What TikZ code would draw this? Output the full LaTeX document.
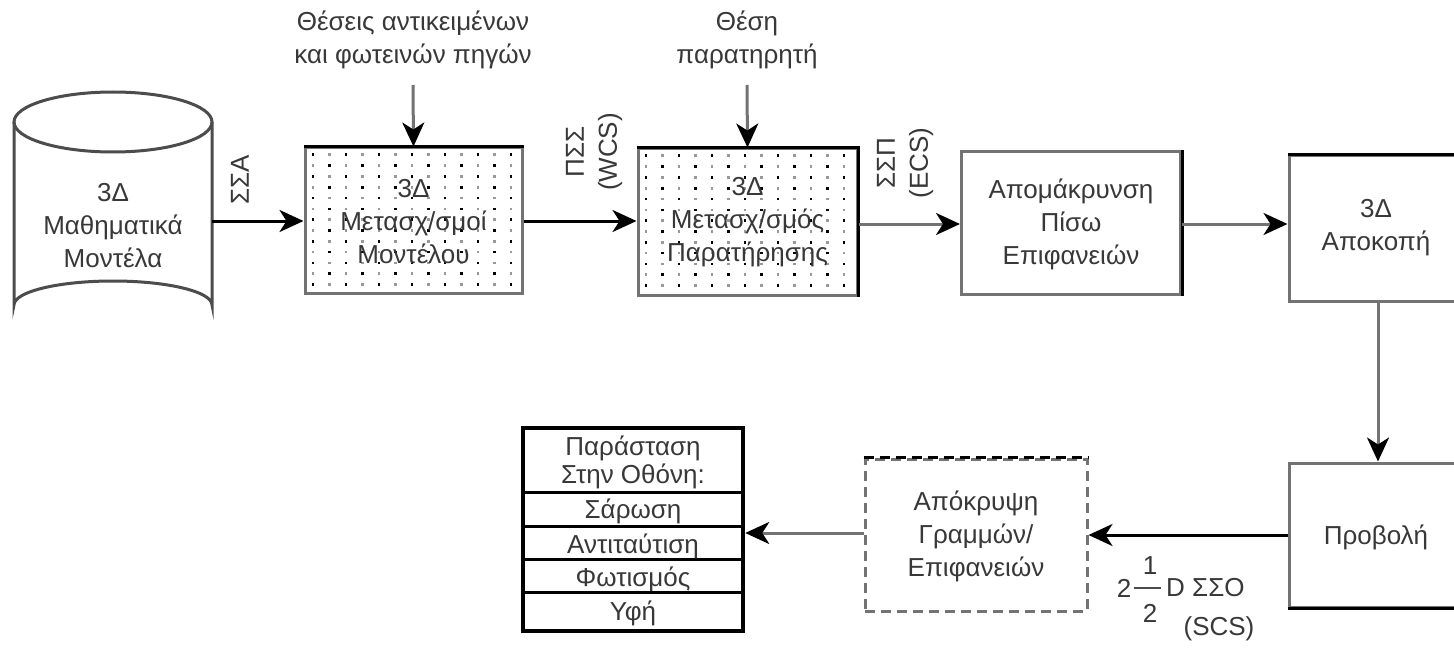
\documentclass[tikz,border=0pt]{standalone}
\usepackage{fontspec}
\setmainfont{Liberation Sans}
\usetikzlibrary{arrows.meta,calc}

\tikzset{
  txt/.style={font=\fontsize{26}{33}\selectfont, text=black!78, align=center, inner sep=0pt},
  grayline/.style={draw=black!55, line width=3pt},
  blackline/.style={draw=black, line width=3pt},
  stagebox/.style={grayline, minimum width=#1, inner sep=0pt},
  tip/.style={-{Stealth[length=24pt,width=22pt,inset=7pt,black]}},
  conn/.style={line width=3pt, tip},
  connblack/.style={conn, draw=black},
  conngray/.style={conn, draw=black!55}
}

% stippled fill of a process box
\newcommand{\stipplebox}[1]{%
  \foreach \i in {0,...,12}{\foreach \j in {0,...,12}{%
    \ifodd\numexpr\i*3+\j\relax \def\dc{black!40}\else\def\dc{black}\fi
    \fill[\dc, shift={(#1.north west)}] (8+\i*16.5,7+\j*10.8) rectangle ++(2.6,2.6);
  }}%
}

\begin{document}
\begin{tikzpicture}[x=1pt,y=-1pt]
\useasboundingbox (0,0) rectangle (1454,650);
\fill[white] (0,0) rectangle (1454,650);

% ---- database cylinder
\node[minimum width=198pt, minimum height=183pt, inner sep=0pt] (mdl) at (113,213.5) {};
\draw[draw=black!70, line width=3pt]
  (14,122) -- (14,305) arc[start angle=180, end angle=360, x radius=99, y radius=24] -- (212,122);
\draw[draw=black!70, line width=3pt] (113,122) ellipse[x radius=99, y radius=30];
\node[txt] (mdltxt) at (113,226) {3Δ\\Μαθηματικά\\Μοντέλα};

% ---- modelling transforms (dotted box)
\node[stagebox=217pt, minimum height=145pt] (b1) at (413.5,220.5) {};
\stipplebox{b1}
\draw[blackline] (b1.north west) -- (b1.north east);
\node[txt] (b1t) at (413.5,222) {3Δ\\Μετασχ/σμοί\\Μοντέλου};

% ---- viewing transform (dotted box)
\node[stagebox=219pt, minimum height=146pt] (b2) at (747.5,222) {};
\stipplebox{b2}
\draw[blackline] (b2.north west) -- (b2.north east) -- (b2.south east);
\node[txt] (b2t) at (747.5,222) {3Δ\\Μετασχ/σμός\\Παρατήρησης};

% ---- back-face removal
\node[stagebox=219pt, minimum height=142pt] (b3) at (1071,223) {};
\draw[blackline] (b3.north east) -- (b3.south east);
\node[txt] (b3t) at (1071,224) {Απομάκρυνση\\Πίσω\\Επιφανειών};

% ---- 3D clipping
\node[stagebox=178pt, minimum height=145pt] (b4) at (1378,228.5) {};
\draw[blackline] (b4.north west) -- (b4.north east);
\node[txt] (b4t) at (1376,228) {3Δ\\Αποκοπή};

% ---- projection
\node[stagebox=178pt, minimum height=144pt] (b5) at (1378,535) {};
\draw[blackline] (b5.south west) -- (b5.south east);
\node[txt] (b5t) at (1376,537) {Προβολή};

% ---- hidden line / surface removal (dashed)
\node[draw=black!55, line width=3pt, dash pattern=on 10pt off 6pt,
      minimum width=222pt, minimum height=152pt, inner sep=0pt] (b6) at (976,535) {};
\draw[draw=black, line width=3pt, dash pattern=on 10pt off 6pt] (b6.north west) -- (b6.north east);
\node[txt] (b6t) at (976,536) {Απόκρυψη\\Γραμμών/\\Επιφανειών};

% ---- screen display table
\node[draw=black, line width=4.5pt, minimum width=220pt, minimum height=203pt, inner sep=0pt] (scr) at (633,529.5) {};
\foreach \yy in {67,101,134,167}{
  \draw[draw=black, line width=3pt, shift={(scr.north west)}] (0,\yy) -- (220,\yy);
}
\node[txt, font=\fontsize{26}{28}\selectfont] (s0) at (633,462) {Παράσταση\\Στην Οθόνη:};
\node[txt] (s1) at (633,511) {Σάρωση};
\node[txt] (s2) at (633,546) {Αντιταύτιση};
\node[txt] (s3) at (633,579) {Φωτισμός};
\node[txt] (s4) at (633,613) {Υφή};

% ---- input labels above
\node[txt] (in1) at (413,40) {Θέσεις αντικειμένων\\και φωτεινών πηγών};
\node[txt] (in2) at (747,40) {Θέση\\παρατηρητή};
\coordinate (in1a) at (413,85);
\coordinate (in2a) at (747,85);
\draw[conngray] (in1a) -- (b1.north);
\draw[conngray] (in2a) -- (b2.north);

% ---- pipeline connectors
\draw[connblack] (mdl.east |- 0,221) -- (b1.west |- 0,221);
\draw[connblack] (b1.east |- 0,221) -- (b2.west |- 0,221);
\draw[conngray] (b2.east |- 0,224) -- (b3.west |- 0,224);
\draw[conngray] (b3.east |- 0,224) -- (b4.west |- 0,224);
\draw[conngray] (b4.south) -- (b5.north);
\draw[connblack] (b5.west) -- (b6.east);
\draw[conngray] (b6.west |- 0,533) -- (scr.east |- 0,533);

% ---- coordinate system labels
\node[txt, rotate=90] (cs1) at (240,180) {ΣΣΑ};
\node[txt, rotate=90] (cs2) at (594,152) {ΠΣΣ\\(WCS)};
\node[txt, rotate=90] (cs3) at (905,163) {ΣΣΠ\\(ECS)};
% screen system: 2 1/2 D, set as a built-up fraction
\node[txt] (cs4i) at (1124,588) {2};
\node[txt] (cs4n) at (1150,566) {1};
\node[txt] (cs4d) at (1150,613) {2};
\draw[draw=black!70, line width=2.2pt] (cs4i.east |- 0,588) ++(3,0) -- ++(27,0);
\node[txt, anchor=west] (cs4) at (1166,588) {D ΣΣΟ};
\node[txt] (cs5) at (1219,629) {(SCS)};
\end{tikzpicture}
\end{document}
